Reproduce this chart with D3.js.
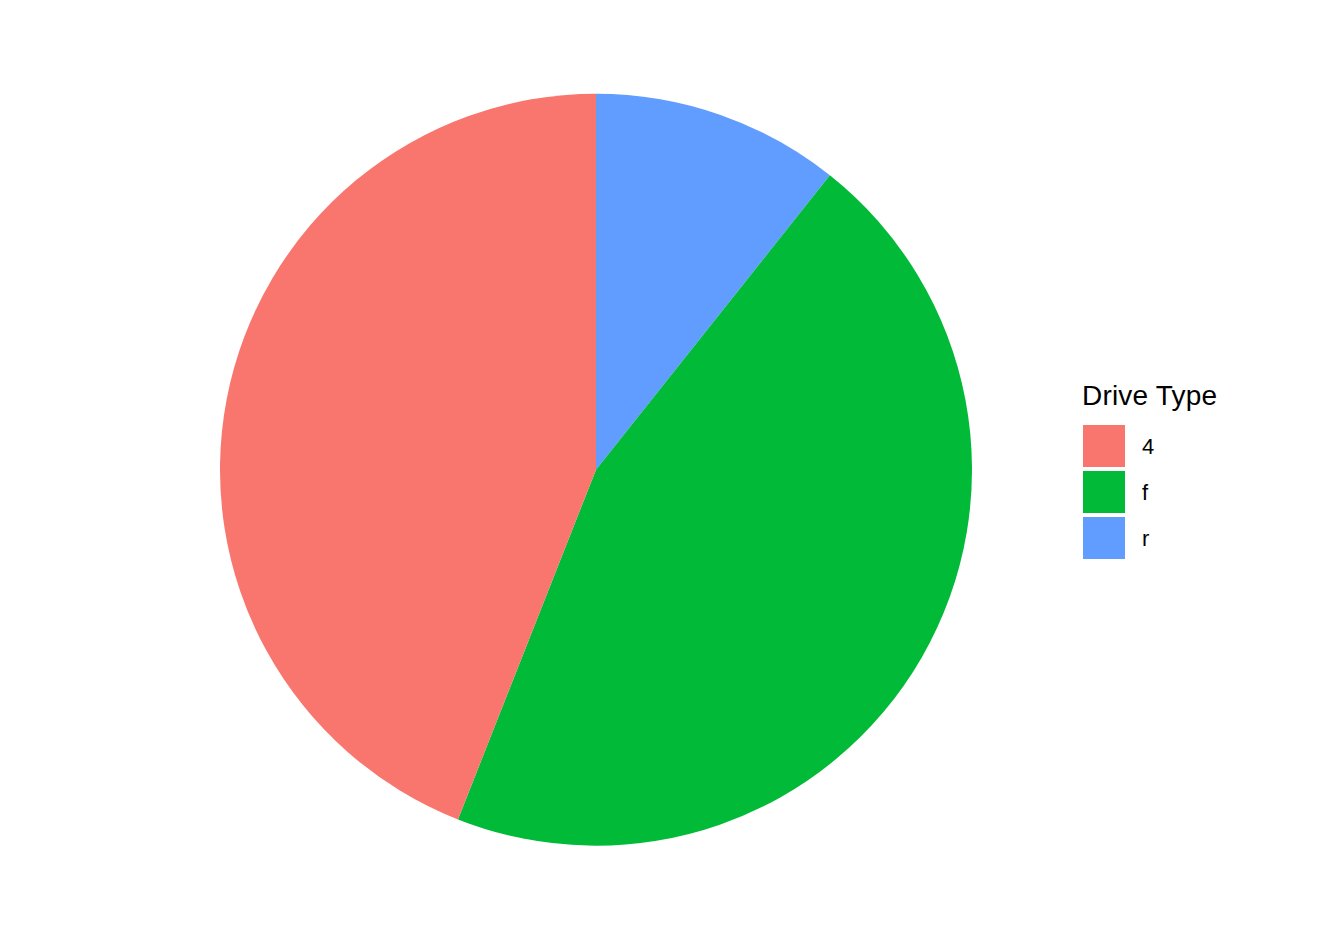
<!DOCTYPE html>
<html>
<head>
<meta charset="utf-8">
<script src="https://cdn.jsdelivr.net/npm/d3@7"></script>
<style>
  body { margin: 0; background: #fff; }
  text { font-family: "Liberation Sans", Arial, sans-serif; fill: #000; }
</style>
</head>
<body>
<div id="chart"></div>
<script>
// mpg drive types (counts)
const drvTypes = ['4', 'f', 'r'];
const drvCounts = [103, 106, 25];
const drvColours = ['#F8766D', '#00BA38', '#619CFF'];
const legendTitle = 'Drive Type';

const width = 1344, height = 940;
const cx = 596, cy = 469.7, radius = 376;

const svg = d3.select('#chart').append('svg')
  .attr('width', width)
  .attr('height', height);

const colour = d3.scaleOrdinal().domain(drvTypes).range(drvColours);

const rows = drvTypes.map((t, i) => ({ type: t, n: drvCounts[i] }));

/* ggplot stacks the last level first from 12 o'clock, clockwise */
const pie = d3.pie()
  .value((d) => d.n)
  .sort(null);
const arcs = pie(rows.slice().reverse());

const arc = d3.arc().innerRadius(0).outerRadius(radius);

svg.append('g')
  .attr('transform', `translate(${cx},${cy})`)
  .selectAll('path')
  .data(arcs)
  .join('path')
  .attr('d', arc)
  .attr('fill', (d) => colour(d.data.type));

/* legend */
const legend = svg.append('g').attr('transform', 'translate(1082,0)');
legend.append('text')
  .attr('x', 0)
  .attr('y', 404.5)
  .attr('font-size', 28)
  .attr('textLength', 135)
  .text(legendTitle);

const keySize = 42, keyGap = 4, keyTop = 425;
const keys = legend.selectAll('.key')
  .data(drvTypes)
  .join('g')
  .attr('class', 'key')
  .attr('transform', (d, i) => `translate(1,${keyTop + i * (keySize + keyGap)})`);

keys.append('rect')
  .attr('width', keySize)
  .attr('height', keySize)
  .attr('fill', (d) => colour(d));

keys.append('text')
  .attr('x', 59)
  .attr('y', keySize / 2)
  .attr('dy', '0.36em')
  .attr('font-size', 22)
  .text((d) => d);
</script>
</body>
</html>
